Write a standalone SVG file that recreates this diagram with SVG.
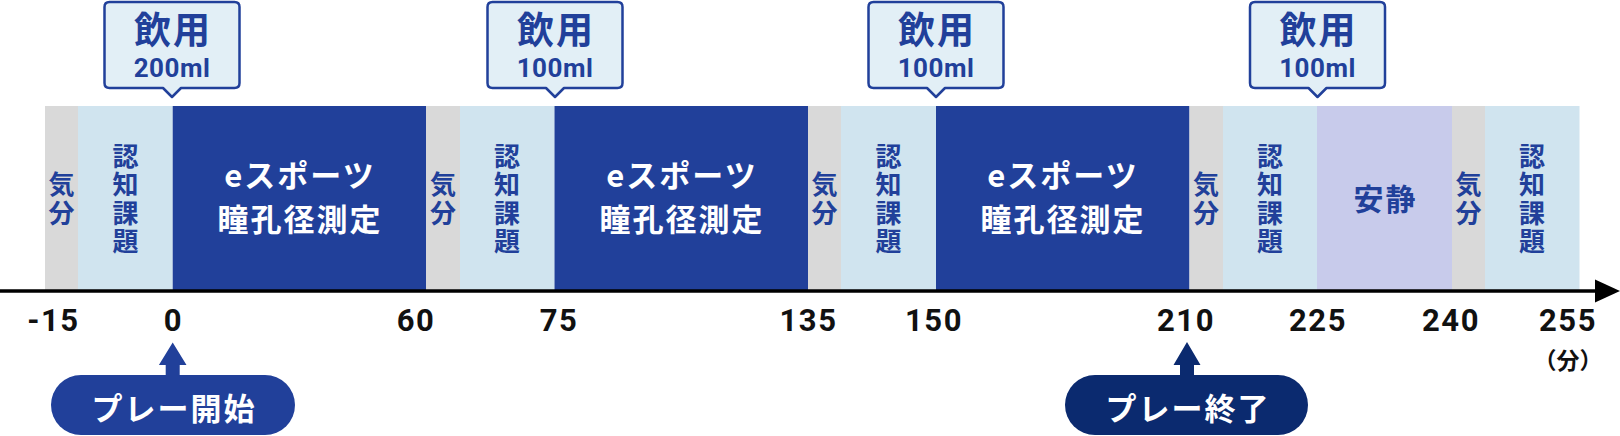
<svg xmlns="http://www.w3.org/2000/svg" width="1620" height="436" viewBox="0 0 1620 436">
<style>
text{font-family:"Noto Sans CJK JP","Noto Sans",sans-serif;font-weight:700;text-anchor:middle}
.gray{fill:#D9D9D9}
.lb{fill:#D0E4EF}
.dk{fill:#21409A}
.lav{fill:#C8CBEB}
.vt{font-size:26px;fill:#21409A;writing-mode:vertical-rl;letter-spacing:2.5px}
.wt{font-size:31px;fill:#FFFFFF;letter-spacing:2px}
.num{font-family:Roboto,"Liberation Sans",sans-serif;font-size:31px;fill:#111111;letter-spacing:1.5px}
.bub{fill:#E2EFF6;stroke:#21409A;stroke-width:2.5;stroke-linejoin:round}
.bt1{font-size:37px;fill:#21409A;letter-spacing:2px}
.bt2{font-family:Roboto,"Noto Sans",sans-serif;font-size:26px;fill:#21409A;letter-spacing:0.5px}
.pill{font-size:31px;fill:#FFFFFF;letter-spacing:2px}
</style>
<defs>
<path id="bubble" class="bub" d="M -62.5,2 H 62.5 Q 67.5,2 67.5,7 V 83 Q 67.5,88 62.5,88 H 9 L 0,97 L -9,88 H -62.5 Q -67.5,88 -67.5,83 V 7 Q -67.5,2 -62.5,2 Z"/>
</defs>
<rect width="1620" height="436" fill="#FFFFFF"/>

<!-- timeline blocks -->
<g id="mood1"><rect class="gray" x="45" y="106" width="33" height="184"/><text class="vt" x="61.5" y="200">気分</text></g>
<g id="cog1"><rect class="lb" x="78" y="106" width="94.7" height="184"/><text class="vt" x="125.4" y="200">認知課題</text></g>
<g id="esports1"><rect class="dk" x="172.7" y="106" width="253.3" height="184"/><text class="wt" x="300" y="187">eスポーツ</text><text class="wt" x="300" y="231">瞳孔径測定</text></g>

<g id="mood2"><rect class="gray" x="426" y="106" width="34" height="184"/><text class="vt" x="443" y="200">気分</text></g>
<g id="cog2"><rect class="lb" x="460" y="106" width="94.5" height="184"/><text class="vt" x="507" y="200">認知課題</text></g>
<g id="esports2"><rect class="dk" x="554.5" y="106" width="253.5" height="184"/><text class="wt" x="682" y="187">eスポーツ</text><text class="wt" x="682" y="231">瞳孔径測定</text></g>

<g id="mood3"><rect class="gray" x="808" y="106" width="33" height="184"/><text class="vt" x="824.5" y="200">気分</text></g>
<g id="cog3"><rect class="lb" x="841" y="106" width="95" height="184"/><text class="vt" x="888.5" y="200">認知課題</text></g>
<g id="esports3"><rect class="dk" x="936" y="106" width="253.5" height="184"/><text class="wt" x="1063" y="187">eスポーツ</text><text class="wt" x="1063" y="231">瞳孔径測定</text></g>

<g id="mood4"><rect class="gray" x="1189.5" y="106" width="33.5" height="184"/><text class="vt" x="1206" y="200">気分</text></g>
<g id="cog4"><rect class="lb" x="1223" y="106" width="94" height="184"/><text class="vt" x="1270" y="200">認知課題</text></g>
<g id="rest"><rect class="lav" x="1317" y="106" width="135" height="184"/><text x="1385.5" y="210" style="font-size:30px;fill:#21409A;letter-spacing:2px">安静</text></g>

<g id="mood5"><rect class="gray" x="1452" y="106" width="33" height="184"/><text class="vt" x="1468.5" y="200">気分</text></g>
<g id="cog5"><rect class="lb" x="1485" y="106" width="94.5" height="184"/><text class="vt" x="1532" y="200">認知課題</text></g>

<!-- drink bubbles -->
<g id="drink1"><use href="#bubble" transform="translate(172,0)"/><text class="bt1" x="173" y="44">飲用</text><text class="bt2" x="172" y="77">200ml</text></g>
<g id="drink2"><use href="#bubble" transform="translate(555,0)"/><text class="bt1" x="556" y="44">飲用</text><text class="bt2" x="555" y="77">100ml</text></g>
<g id="drink3"><use href="#bubble" transform="translate(936,0)"/><text class="bt1" x="937" y="44">飲用</text><text class="bt2" x="936" y="77">100ml</text></g>
<g id="drink4"><use href="#bubble" transform="translate(1317.5,0)"/><text class="bt1" x="1318.5" y="44">飲用</text><text class="bt2" x="1317.5" y="77">100ml</text></g>

<!-- axis -->
<g id="axis">
<line x1="0" y1="291" x2="1598" y2="291" stroke="#000000" stroke-width="3.5"/>
<polygon points="1595,279.5 1620,291 1595,302.5" fill="#000000"/>
</g>
<g id="ticks">
<text class="num" x="53.5" y="331">-15</text>
<text class="num" x="173.5" y="331">0</text>
<text class="num" x="416" y="331">60</text>
<text class="num" x="559" y="331">75</text>
<text class="num" x="808.5" y="331">135</text>
<text class="num" x="934" y="331">150</text>
<text class="num" x="1186" y="331">210</text>
<text class="num" x="1318" y="331">225</text>
<text class="num" x="1451" y="331">240</text>
<text class="num" x="1568" y="331">255</text>
<text x="1568" y="369" style="font-size:23px;fill:#111111">（分）</text>
</g>

<!-- connectors -->
<g id="connectors">
<path d="M 172.7,342.5 L 186.5,365 L 179.7,365 L 179.7,376 L 165.7,376 L 165.7,365 L 158.9,365 Z" fill="#21409A"/>
<path d="M 1187,342 L 1200.5,365 L 1194,365 L 1194,376 L 1180,376 L 1180,365 L 1173.5,365 Z" fill="#0B2A6F"/>
</g>

<!-- play labels -->
<g id="play-start"><rect x="51" y="375" width="244" height="60" rx="30" fill="#21409A"/><text class="pill" x="174" y="420">プレー開始</text></g>
<g id="play-end"><rect x="1065" y="375" width="243" height="60" rx="30" fill="#0B2A6F"/><text class="pill" x="1188" y="420">プレー終了</text></g>
</svg>
